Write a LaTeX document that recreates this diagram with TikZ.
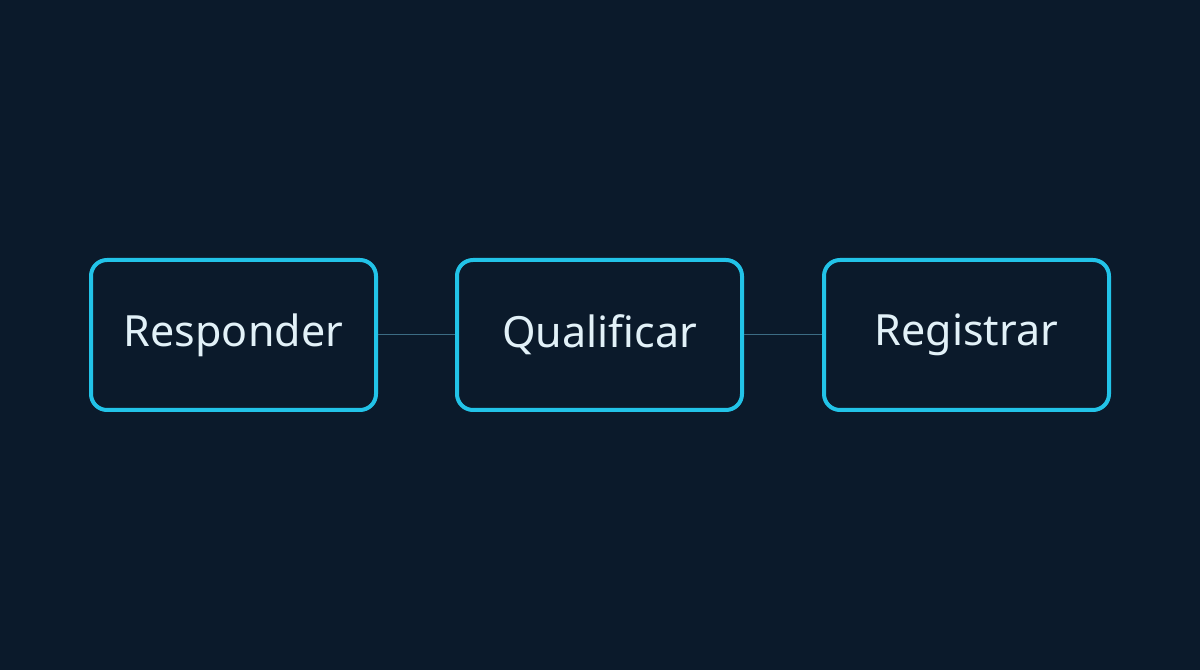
\documentclass[tikz,border=0pt]{standalone}
\usepackage{fontspec}
\setmainfont{Noto Sans}
\definecolor{bg}{HTML}{0B1A2B}
\definecolor{cy}{HTML}{22C3E8}
\definecolor{tx}{HTML}{E2F1F8}
\definecolor{ln}{HTML}{3C6C84}
\begin{document}
\begin{tikzpicture}[x=1pt,y=1pt,
  box/.style={draw=cy,line width=4pt,rounded corners=16pt,minimum width=285pt,minimum height=150pt,text=tx,font=\fontsize{43}{50}\selectfont,inner sep=0pt},
  conn/.style={draw=ln,line width=1pt}]
\fill[bg] (0,0) rectangle (1200,670);
\useasboundingbox (0,0) rectangle (1200,670);
\node[box] (a) at (233.5,335) {Responder};
\node[box] (b) at (599.5,335) {Qualificar};
\node[box] (c) at (966.5,335) {Registrar};
\draw[conn] (a) -- (b);
\draw[conn] (b) -- (c);
\end{tikzpicture}
\end{document}
